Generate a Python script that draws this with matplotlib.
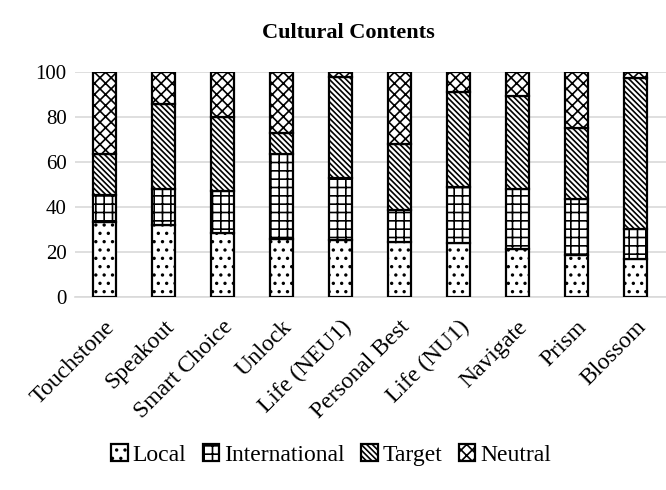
import matplotlib
matplotlib.use("Agg")
import matplotlib.pyplot as plt
import numpy as np

books = ["Touchstone", "Speakout", "Smart Choice", "Unlock", "Life (NEU1)",
         "Personal Best", "Life (NU1)", "Navigate", "Prism", "Blossom"]
local = [33.5, 32.0, 28.6, 25.6, 25.2, 24.4, 24.2, 21.5, 18.5, 17.1]
international = [11.7, 16.1, 18.5, 38.1, 27.5, 14.1, 24.8, 26.4, 24.9, 13.0]
target = [18.5, 37.8, 32.9, 9.3, 45.2, 29.6, 42.3, 41.4, 31.6, 67.4]
neutral = [36.3, 14.1, 20.0, 27.0, 2.1, 31.9, 8.7, 10.7, 25.0, 2.5]

series = [("Local", local, ".."), ("International", international, "++"),
          ("Target", target, "\\" * 6), ("Neutral", neutral, "xxx")]

plt.rcParams["font.family"] = ["Liberation Serif", "DejaVu Serif"]
plt.rcParams["hatch.linewidth"] = 1.2

fig = plt.figure(figsize=(6.66, 4.9), dpi=100)
ax = fig.add_axes([75 / 666, 1 - 297 / 490, 1 - 75 / 666, 225 / 490])

x = np.arange(len(books))
bottom = np.zeros(len(books))
for name, vals, hatch in series:
    ax.bar(x, vals, 0.4, bottom=bottom, color="white", edgecolor="black",
           linewidth=1.6, hatch=hatch, label=name, zorder=3)
    bottom += np.array(vals)

ax.set_xlim(-0.5, 9.52)
ax.set_ylim(0, 100)
ax.set_yticks([0, 20, 40, 60, 80, 100])
ax.yaxis.grid(True, color="#d9d9d9", linewidth=1.2, zorder=0)
for s in ["top", "right", "left"]:
    ax.spines[s].set_visible(False)
ax.spines["bottom"].set_color("#d9d9d9")
ax.spines["bottom"].set_linewidth(1.2)
ax.tick_params(axis="y", length=0, labelsize=15, pad=6)
ax.tick_params(axis="x", length=0, pad=14)
ax.set_xticks(x)
ax.set_xticklabels(books, rotation=45, ha="right", rotation_mode="anchor",
                   fontsize=17)

fig.text(348 / 666, 1 - 33 / 490, "Cultural Contents", ha="center",
         va="center", fontsize=16, fontweight="bold")

ax.legend(loc="center", bbox_to_anchor=((331 - 75) / 591, (297 - 455) / 225),
          ncol=4, frameon=False, fontsize=17, handlelength=0.7,
          handleheight=0.7, handletextpad=0.2, columnspacing=0.7)

fig.savefig("out.png", dpi=100)
